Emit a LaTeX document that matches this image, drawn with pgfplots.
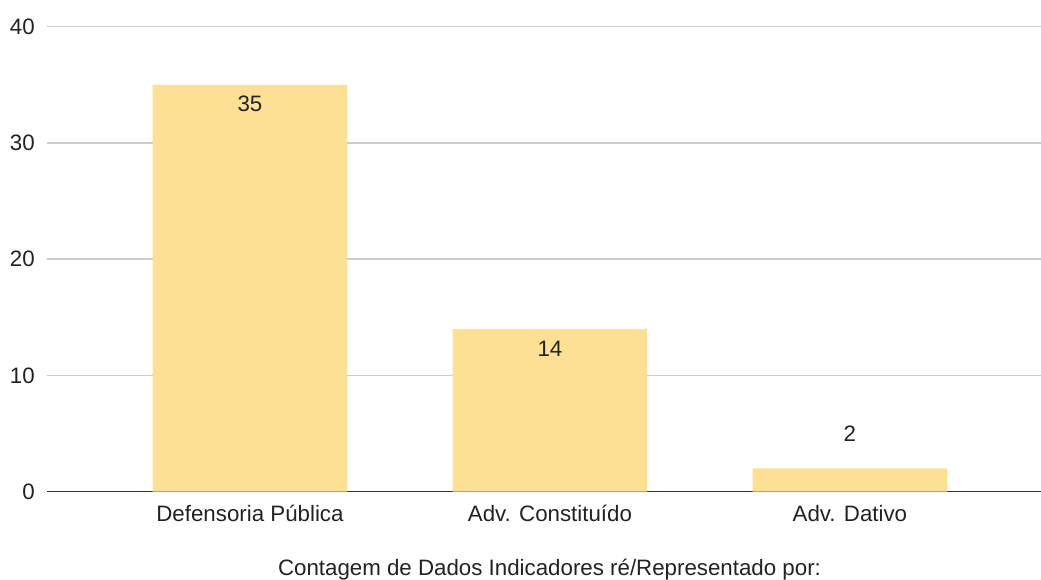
\documentclass[border=0pt]{standalone}
\usepackage{fontspec}
\setmainfont{Liberation Sans}
\usepackage{pgfplots}
\pgfplotsset{compat=1.18}
\definecolor{barY}{HTML}{FDE093}
\definecolor{gridG}{HTML}{CCCCCC}
\definecolor{axG}{HTML}{333333}
\definecolor{txt}{HTML}{222222}
\begin{document}
\begin{tikzpicture}
\useasboundingbox (-47.5pt,-88.3pt) rectangle (993.5pt,491.7pt);
\begin{axis}[
  at={(0,0)}, anchor=south west,
  scale only axis,
  width=993.5pt, height=465pt,
  xmin=-0.675, xmax=2.637,
  ymin=0, ymax=40,
  ytick={0,10,20,30,40},
  xtick={0,1,2},
  xticklabels={Defensoria Pública, Adv. Constituído, Adv. Dativo},
  major tick length=0pt,
  separate axis lines,
  axis x line*=bottom,
  axis y line*=left,
  y axis line style={draw=none},
  x axis line style={draw=axG, line width=1.5pt},
  ymajorgrids,
  grid style={draw=gridG, line width=1.5pt},
  /pgf/number format/assume math mode=true,
  font=\fontsize{22.3}{27}\selectfont,
  every tick label/.append style={text=txt},
  yticklabel style={anchor=east, inner sep=0pt, xshift=-12.5pt},
  xticklabel style={anchor=base, inner sep=0pt, yshift=-30pt},
  xlabel={Contagem de Dados Indicadores ré/Representado por:},
  xlabel style={at={(axis description cs:0.5053,0)}, anchor=base, inner sep=0pt, yshift=-84pt, text=txt},
  clip=false,
  axis on top=false,
]
\addplot[ybar, bar width=194.5pt, fill=barY, draw=none, bar shift=0pt] coordinates {(0,35) (1,14) (2,2)};
\node[text=txt, yshift=-19pt] at (axis cs:0,35) {35};
\node[text=txt, yshift=-19.5pt] at (axis cs:1,14) {14};
\node[text=txt, yshift=34.5pt] at (axis cs:2,2) {2};
\end{axis}
\end{tikzpicture}
\end{document}
